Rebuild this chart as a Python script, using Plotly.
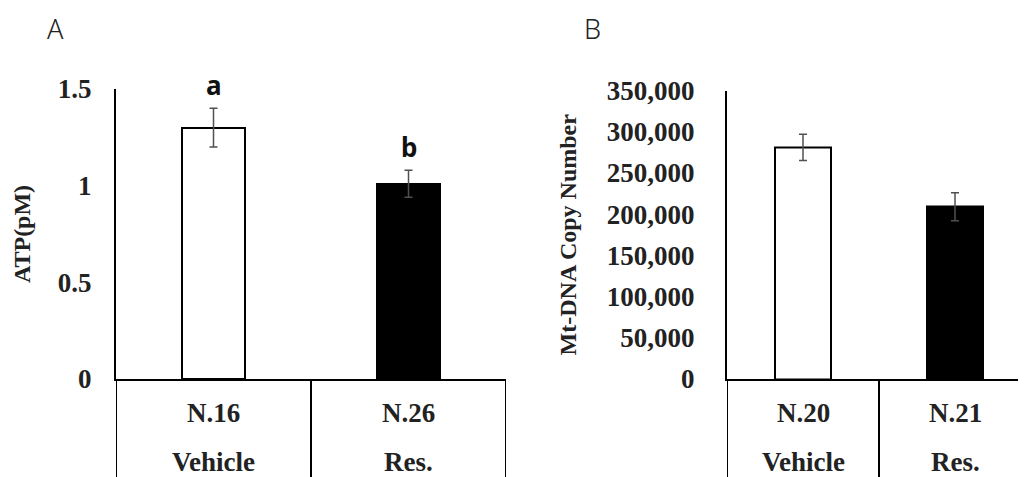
import plotly.graph_objects as go

W, H = 1026, 477
OFF = 8  # page body margin of the browser

# ---- data ----
cats_A = ["N.16", "N.26"]
groups_A = ["Vehicle", "Res."]
atp = [1.30, 1.01]
atp_err = [0.10, 0.07]
sig_A = ["a", "b"]

cats_B = ["N.20", "N.21"]
groups_B = ["Vehicle", "Res."]
mtdna = [281000, 209000]
mtdna_err = [16000, 17000]

fills = ["white", "black"]

serif = "Liberation Serif"
sans = "Noto Sans"

def px(x):
    return (x - OFF) / W

def py(y):
    return (H - (y - OFF)) / H

fig = go.Figure()

fig.add_trace(go.Bar(
    x=[0, 1], y=atp, width=0.32,
    marker=dict(color=fills, line=dict(color="black", width=2)),
    error_y=dict(type="data", array=atp_err, color="#505050", thickness=1.5, width=4),
    xaxis="x", yaxis="y", showlegend=False,
))
fig.add_trace(go.Bar(
    x=[0, 1], y=mtdna, width=0.37,
    marker=dict(color=fills, line=dict(color="black", width=2)),
    error_y=dict(type="data", array=mtdna_err, color="#505050", thickness=1.5, width=4),
    xaxis="x2", yaxis="y2", showlegend=False,
))

# axes geometry (pixels)
A_left, A_right, A_top, base = 116, 506, 89, 379
B_left, B_top = 727, 90.5
B_cat_w = 152
B_right_val = -0.5 + (W - (B_left - OFF)) / B_cat_w

tickfont = dict(family=serif, size=27, color="#222222", weight="bold")
titlefont = dict(family=serif, size=24, color="#222222", weight="bold")

fig.update_layout(
    width=W, height=H,
    margin=dict(l=0, r=0, t=0, b=0, autoexpand=False),
    paper_bgcolor="white", plot_bgcolor="white",
    bargap=0,
    xaxis=dict(domain=[px(A_left), px(A_right)], range=[-0.5, 1.5],
               showticklabels=False, showgrid=False, zeroline=False, automargin=False,
               showline=True, linecolor="black", linewidth=2, anchor="y"),
    yaxis=dict(domain=[py(base), py(A_top)], range=[0, 1.5], dtick=0.5,
               showgrid=False, zeroline=False, showline=True, linecolor="black",
               linewidth=2, ticks="outside", ticklen=17, tickcolor="rgba(0,0,0,0)",
               tickfont=tickfont, anchor="x", automargin=False,
               title=dict(text="ATP(pM)", font=titlefont, standoff=20)),
    xaxis2=dict(domain=[px(B_left), 1], range=[-0.5, B_right_val],
                showticklabels=False, showgrid=False, zeroline=False, automargin=False,
                showline=True, linecolor="black", linewidth=2, anchor="y2"),
    yaxis2=dict(domain=[py(base), py(B_top)], range=[0, 350000], dtick=50000,
                tickformat=",d", automargin=False,
                showgrid=False, zeroline=False, showline=True, linecolor="black",
                linewidth=2, ticks="outside", ticklen=25, tickcolor="rgba(0,0,0,0)",
                tickfont=tickfont, anchor="x2",
                title=dict(text="Mt-DNA Copy Number", font=titlefont, standoff=23)),
)

# category table lines below the x axes
for xr, xs in (("x", [-0.5, 0.5, 1.5]), ("x2", [-0.5, 0.5, 1.5])):
    for xv in xs:
        fig.add_shape(type="line", xref=xr, yref="paper", x0=xv, x1=xv,
                      y0=0, y1=py(base), line=dict(color="black", width=2))

catfont = dict(family=serif, size=27, color="#222222", weight="bold")
for xr, cats, groups in (("x", cats_A, groups_A), ("x2", cats_B, groups_B)):
    for i, (c, g) in enumerate(zip(cats, groups)):
        fig.add_annotation(x=i, y=py(413), xref=xr, yref="paper", text=c,
                           showarrow=False, font=catfont, yanchor="middle")
        fig.add_annotation(x=i, y=py(462), xref=xr, yref="paper", text=g,
                           showarrow=False, font=catfont, yanchor="middle")

# significance letters
for i, s in enumerate(sig_A):
    fig.add_annotation(x=i, y=atp[i] + atp_err[i], xref="x", yref="y", text=s,
                       showarrow=False, yanchor="bottom", yshift=3,
                       font=dict(family=sans, size=26, color="#111111", weight="bold"))

# panel letters
for lbl, xpix in (("A", 55), ("B", 592)):
    fig.add_annotation(x=px(xpix), y=1, xref="paper", yref="paper", text=lbl,
                       showarrow=False, xanchor="center", yanchor="top",
                       font=dict(family=sans, size=27, color="#222222", weight=300))

fig.write_html("out.html")
